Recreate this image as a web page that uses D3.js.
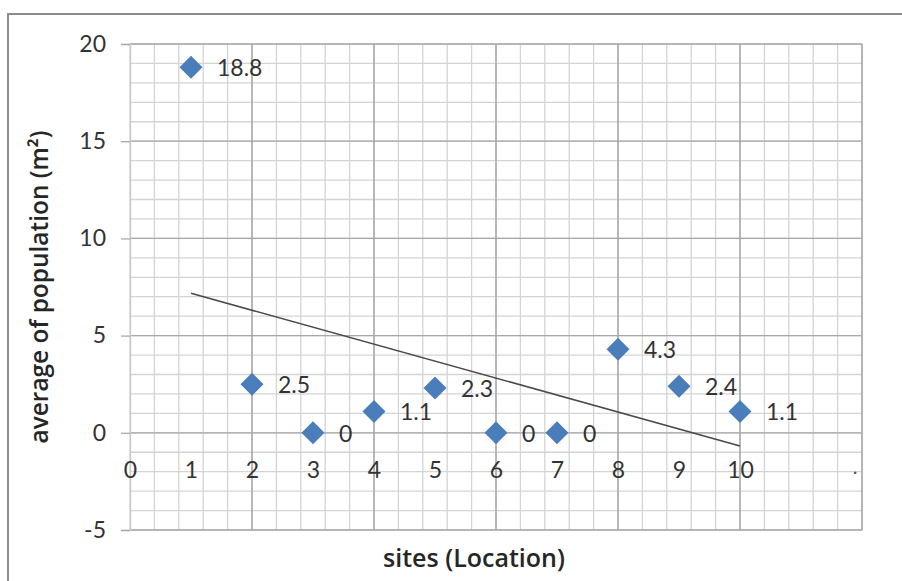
<!DOCTYPE html>
<html>
<head>
<meta charset="utf-8">
<script src="https://cdn.jsdelivr.net/npm/d3@7"></script>
<style>
  html, body { margin: 0; padding: 0; background: #fff; }
  svg { display: block; }
</style>
</head>
<body>
<svg id="chart" width="902" height="581"></svg>
<script>
// ---- data ----
const sites = [1, 2, 3, 4, 5, 6, 7, 8, 9, 10];
const population = [18.8, 2.5, 0, 1.1, 2.3, 0, 0, 4.3, 2.4, 1.1];
const pointLabels = ["18.8", "2.5", "0", "1.1", "2.3", "0", "0", "4.3", "2.4", "1.1"];
const yTickValues = [-5, 0, 5, 10, 15, 20];
const xTickValues = [0, 1, 2, 3, 4, 5, 6, 7, 8, 9, 10];
const xTitle = "sites (Location)";
const yTitle = "average of population (m²)";

const svg = d3.select("#chart");
const W = 902, H = 581;

// outer chart border
svg.append("rect")
  .attr("x", 8).attr("y", 14)
  .attr("width", W + 20).attr("height", H + 20)
  .attr("fill", "#fff").attr("stroke", "#8c8c8c").attr("stroke-width", 2);

const x = d3.scaleLinear().domain([0, 12]).range([130, 862]);
const y = d3.scaleLinear().domain([-5, 20]).range([530, 44]);

const grid = svg.append("g");
// minor gridlines
const xMinor = d3.range(0, 12.0001, 0.4);
const yMinor = d3.range(-5, 20.0001, 1);
grid.selectAll(".vmin").data(xMinor).join("line")
  .attr("x1", d => x(d)).attr("x2", d => x(d))
  .attr("y1", y(20)).attr("y2", y(-5))
  .attr("stroke", "#d4d4d4").attr("stroke-width", 1.3);
grid.selectAll(".hmin").data(yMinor).join("line")
  .attr("x1", x(0)).attr("x2", x(12))
  .attr("y1", d => y(d)).attr("y2", d => y(d))
  .attr("stroke", "#d4d4d4").attr("stroke-width", 1.3);
// major gridlines
const xMajor = d3.range(2, 12.0001, 2);
grid.selectAll(".vmaj").data(xMajor).join("line")
  .attr("x1", d => x(d)).attr("x2", d => x(d))
  .attr("y1", y(20)).attr("y2", y(-5))
  .attr("stroke", "#a0a0a0").attr("stroke-width", 1.3);
grid.selectAll(".hmaj").data(yTickValues).join("line")
  .attr("x1", x(0)).attr("x2", x(12))
  .attr("y1", d => y(d)).attr("y2", d => y(d))
  .attr("stroke", "#a8a8a8").attr("stroke-width", 1.3);
// plot right border
grid.append("line")
  .attr("x1", x(12)).attr("x2", x(12)).attr("y1", y(20)).attr("y2", y(-5))
  .attr("stroke", "#b4b4b4").attr("stroke-width", 1.5);

const numFont = "Lato, 'Open Sans', sans-serif";

// y axis
const yAxis = d3.axisLeft(y).tickValues(yTickValues).tickSize(9).tickPadding(15)
  .tickFormat(d => String(d));
const gy = svg.append("g").attr("transform", `translate(${x(0)},0)`).call(yAxis);
gy.select(".domain").attr("stroke", "#c8c8c8").attr("stroke-width", 1.3);
gy.selectAll(".tick line").attr("stroke", "#a8a8a8").attr("stroke-width", 1.3);
gy.selectAll(".tick text")
  .attr("font-family", numFont)
  .attr("font-size", 23).attr("fill", "#333");

// x axis labels (placed inside the plot, below the zero line)
const xAxis = d3.axisBottom(x).tickValues(xTickValues).tickSize(0).tickPadding(0)
  .tickFormat(d => String(d));
const gx = svg.append("g").attr("transform", `translate(0,${y(-1.48)})`).call(xAxis);
gx.select(".domain").remove();
gx.selectAll(".tick text")
  .attr("font-family", numFont)
  .attr("font-size", 23).attr("fill", "#333");
// stray dot at right end
svg.append("text")
  .attr("x", x(11.85)).attr("y", y(-2.1))
  .attr("font-family", "Lato, sans-serif").attr("font-size", 20).attr("fill", "#555")
  .text(".");

// trend line (least squares)
const mx = d3.mean(sites), my = d3.mean(population);
const sxy = d3.sum(sites, (s, i) => (s - mx) * (population[i] - my));
const sxx = d3.sum(sites, s => (s - mx) * (s - mx));
const slope = sxy / sxx, intercept = my - slope * mx;
const x0 = d3.min(sites), x1 = d3.max(sites);
svg.append("line")
  .attr("x1", x(x0)).attr("y1", y(intercept + slope * x0))
  .attr("x2", x(x1)).attr("y2", y(intercept + slope * x1))
  .attr("stroke", "#4a4a4a").attr("stroke-width", 1.6);

// markers
svg.selectAll(".pt").data(sites).join("path")
  .attr("d", d3.symbol().type(d3.symbolSquare).size(265))
  .attr("transform", (d, i) => `translate(${x(d)},${y(population[i])}) rotate(45)`)
  .attr("fill", "#4a7ebb");

// data labels
svg.selectAll(".lbl").data(sites).join("text")
  .attr("x", d => x(d) + 26)
  .attr("y", (d, i) => y(population[i]) + 9)
  .attr("font-family", numFont)
  .attr("font-size", 23).attr("fill", "#333")
  .text((d, i) => pointLabels[i]);

// axis titles
function fit(sel, target) {
  const w = sel.node().getComputedTextLength();
  const fs = parseFloat(sel.attr("font-size"));
  sel.attr("font-size", fs * target / w);
}
const xt = svg.append("text")
  .attr("x", 474).attr("y", 567)
  .attr("text-anchor", "middle")
  .attr("font-family", "'Open Sans', sans-serif").attr("font-weight", 600)
  .attr("font-size", 22).attr("fill", "#262626")
  .text(xTitle);
fit(xt, 182);
const yt = svg.append("text")
  .attr("transform", "translate(48,287) rotate(-90)")
  .attr("text-anchor", "middle")
  .attr("font-family", "'Open Sans', sans-serif").attr("font-weight", 600)
  .attr("font-size", 22).attr("fill", "#262626")
  .text(yTitle);
fit(yt, 313);
</script>
</body>
</html>
